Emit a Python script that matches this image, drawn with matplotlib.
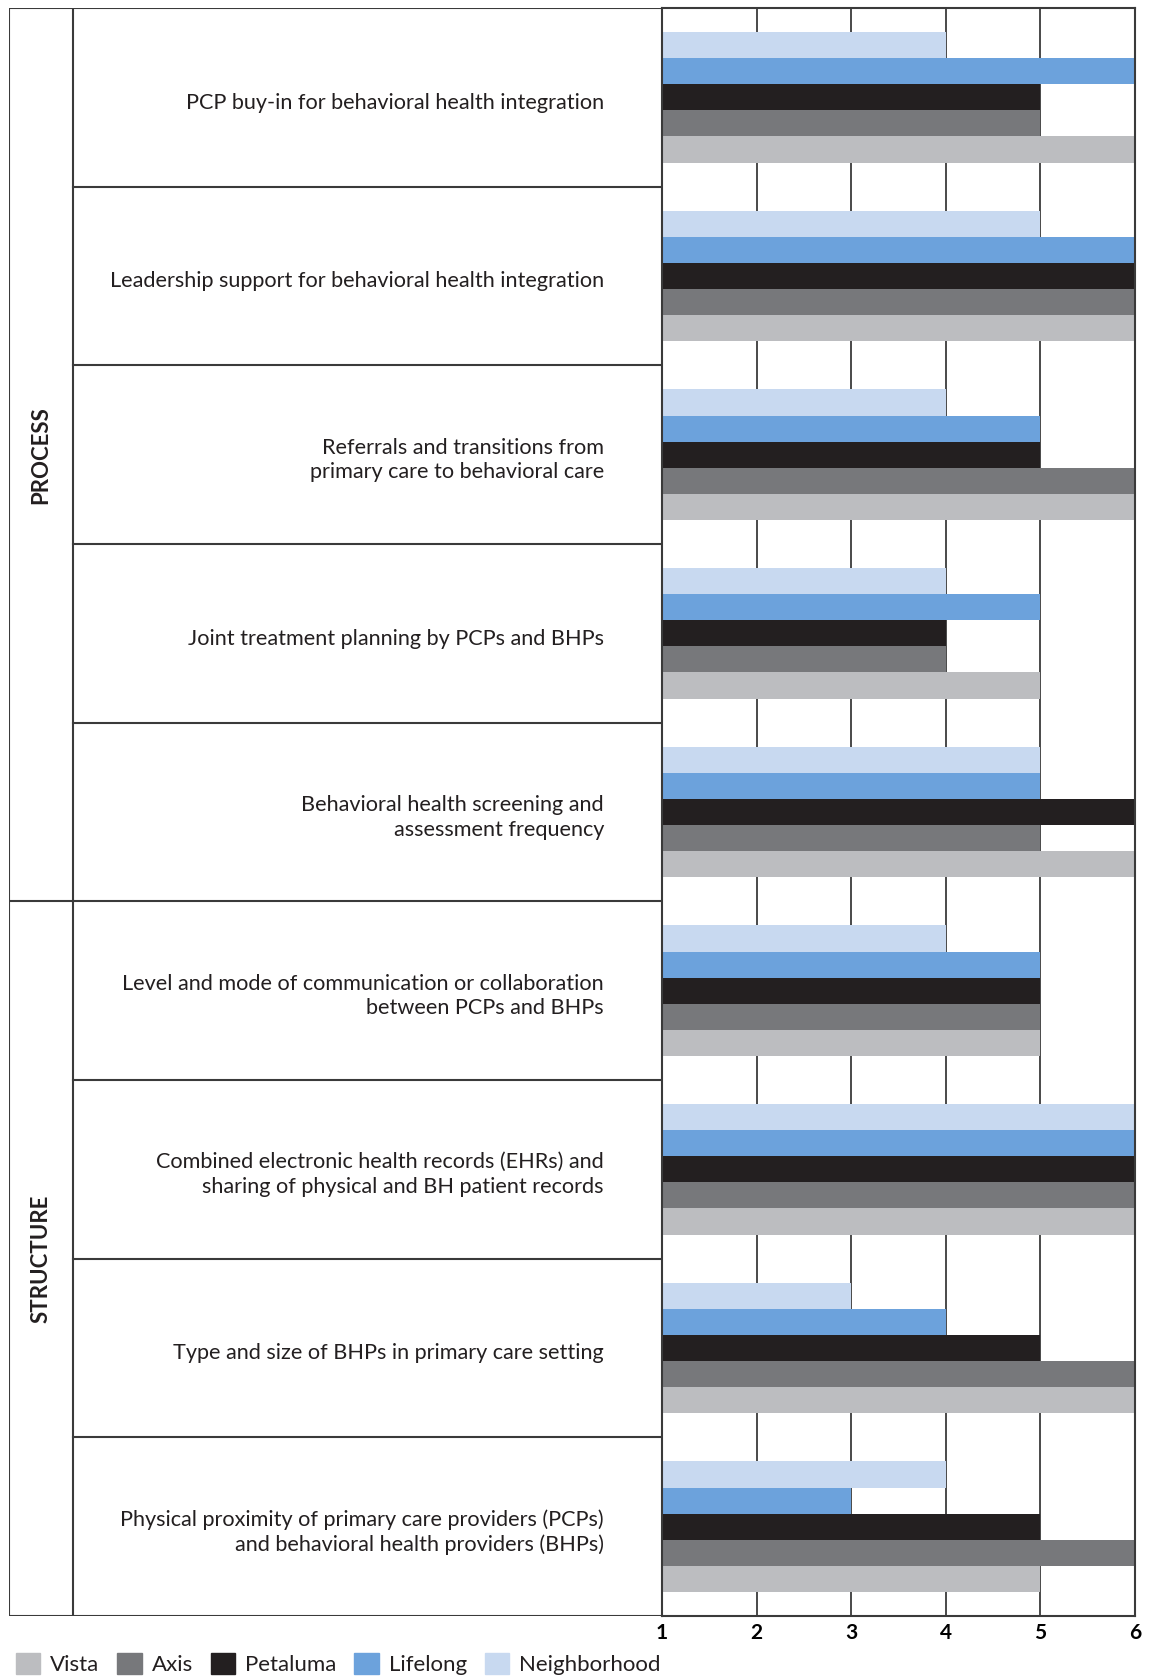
import matplotlib.pyplot as plt
from matplotlib.patches import Patch
import numpy as np

plt.rcParams['font.family'] = ['Lato', 'DejaVu Sans']

labels = ["PCP buy-in for behavioral health integration",
          "Leadership support for behavioral health integration",
          "Referrals and transitions from\nprimary care to behavioral care",
          "Joint treatment planning by PCPs and BHPs",
          "Behavioral health screening and\nassessment frequency",
          "Level and mode of communication or collaboration\nbetween PCPs and BHPs",
          "Combined electronic health records (EHRs) and\nsharing of physical and BH patient records",
          "Type and size of BHPs in primary care setting",
          "Physical proximity of primary care providers (PCPs)\nand behavioral health providers (BHPs)"]
sections = ["PROCESS", "STRUCTURE"]
section_rows = [5, 4]

series = ["Neighborhood", "Lifelong", "Petaluma", "Axis", "Vista"]
neighborhood = [4, 5, 4, 4, 5, 4, 6, 3, 4]
lifelong = [6, 6, 5, 5, 5, 5, 6, 4, 3]
petaluma = [5, 6, 5, 4, 6, 5, 6, 5, 5]
axis_ = [5, 6, 6, 4, 5, 5, 6, 6, 6]
vista = [6, 6, 6, 5, 6, 5, 6, 6, 5]
colors = ["#c8d9f0", "#6ca2dc", "#231f20", "#77787b", "#bcbdc0"]

W, H = 1154, 1677
fig = plt.figure(figsize=(W / 100, H / 100), dpi=100)
top_px, bot_px = 8, 1616
x_lab0, x_div, x_chart, x_end = 9, 73, 662, 1135
fy = lambda p: 1 - p / H

ax = fig.add_axes([x_chart / W, fy(bot_px), (x_end - x_chart) / W, (bot_px - top_px) / H])
lab = fig.add_axes([x_lab0 / W, fy(bot_px), (x_chart - x_lab0) / W, (bot_px - top_px) / H])

n = len(labels)
bh = 0.146
lc = "#3a3a3a"
for k, vals in enumerate([neighborhood, lifelong, petaluma, axis_, vista]):
    ys = np.arange(n) + 0.5 + (k - 2) * bh
    ax.barh(ys, np.array(vals) - 1, left=1, height=bh, color=colors[k], zorder=2)

ax.set_xlim(1, 6)
ax.set_ylim(n, 0)
ax.set_yticks([])
ax.set_xticks(range(1, 7))
ax.tick_params(axis='x', length=0, pad=5, labelsize=15)
for t in ax.get_xticklabels():
    t.set_fontweight('bold')
for x in range(2, 6):
    ax.axvline(x, color=lc, lw=1.3, zorder=1)
for s in ax.spines.values():
    s.set_color(lc)
    s.set_linewidth(1.5)

# label grid on the left
lab.set_xlim(x_lab0, x_chart)
lab.set_ylim(n, 0)
lab.axis('off')
lab.plot([x_lab0, x_chart], [0, 0], color=lc, lw=1.5)
lab.plot([x_lab0, x_chart], [n, n], color=lc, lw=1.5)
lab.plot([x_lab0, x_lab0], [0, n], color=lc, lw=1.5)
lab.plot([x_div, x_div], [0, n], color=lc, lw=1.5)
for i in range(1, n):
    lab.plot([x_div, x_chart], [i, i], color=lc, lw=1.5)
for i, t in enumerate(labels):
    lab.text(604, i + 0.53, t, ha='right', va='center', fontsize=15.6,
             color="#231f20", multialignment='right', linespacing=1.3)
start = 0
for name, cnt in zip(sections, section_rows):
    if start > 0:
        lab.plot([x_lab0, x_div], [start, start], color=lc, lw=1.5)
    lab.text((x_lab0 + x_div) / 2, start + cnt / 2, name, rotation=90,
             ha='center', va='center', fontsize=16, fontweight='bold', color="#231f20")
    start += cnt

handles = [Patch(color=c, label=s) for s, c in zip(series[::-1], colors[::-1])]
fig.legend(handles=handles, loc='center left', bbox_to_anchor=(0.002, fy(1664)), ncol=5,
           frameon=False, fontsize=16, handlelength=1.1, handleheight=1.1,
           handletextpad=0.45, columnspacing=0.8, labelcolor="#231f20", borderaxespad=0.2)

fig.savefig("out.png", dpi=100)
